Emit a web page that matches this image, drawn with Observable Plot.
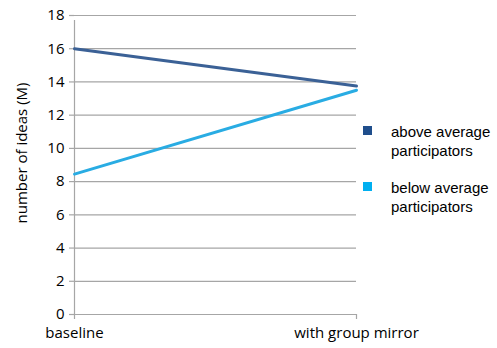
<!DOCTYPE html>
<html>
<head>
<meta charset="utf-8">
<script src="https://cdn.jsdelivr.net/npm/d3@7"></script>
<script src="https://cdn.jsdelivr.net/npm/@observablehq/plot@0.6"></script>
<style>
  html, body { margin: 0; padding: 0; background: #fff; }
  #wrap { position: relative; width: 497px; height: 348px; }
  .legend { position: absolute; left: 363px; font-family: "Liberation Sans", Arial, sans-serif; font-size: 15px; color: #000; line-height: 19px; }
  .legend .sw { position: absolute; left: 0; top: 4px; width: 9px; height: 9px; }
  .legend .tx { position: absolute; left: 28px; top: 0; white-space: nowrap; }
</style>
</head>
<body>
<div id="wrap"></div>
<script>
const categories = ["baseline", "with group mirror"];
const seriesNames = ["above average participators", "below average participators"];
const aboveValues = [16, 13.75];
const belowValues = [8.45, 13.5];
const yTicks = [0, 2, 4, 6, 8, 10, 12, 14, 16, 18];
const yLabel = "number of ideas (M)";
const lineColors = ["#3b6196", "#29ace3"];
const legendColors = ["#1f4e8c", "#00aff0"];

const data = [];
categories.forEach((c, i) => {
  data.push({cat: c, series: seriesNames[0], value: aboveValues[i]});
  data.push({cat: c, series: seriesNames[1], value: belowValues[i]});
});

const axisColor = "#a6a6a6";
const font = "'Open Sans', sans-serif";

const chart = Plot.plot({
  width: 497,
  height: 348,
  marginLeft: 74,
  marginRight: 141,
  marginTop: 15,
  marginBottom: 34,
  style: {fontFamily: font, fontSize: "15px", color: "#000", background: "#fff"},
  x: {type: "point", domain: categories, padding: 0},
  y: {domain: [0, 18]},
  color: {domain: seriesNames, range: lineColors},
  marks: [
    Plot.gridY(yTicks, {stroke: axisColor, strokeOpacity: 1, strokeWidth: 1.2}),
    Plot.ruleX([categories[0]], {y1: 0, y2: 18, stroke: axisColor, strokeWidth: 1.2, insetBottom: -5}),
    Plot.axisY(yTicks, {tickSize: 5, tickPadding: 5, stroke: axisColor, strokeWidth: 1.2, fill: "#000", fontSize: 15, label: null}),
    Plot.axisX(categories, {tickSize: 5, tickPadding: 8, stroke: axisColor, strokeWidth: 1.2, fill: "#000", fontSize: 15, label: null}),
    Plot.text([yLabel], {text: d => d, frameAnchor: "left", textAnchor: "middle", rotate: -90, dx: -52, dy: -12, fontSize: 15, fill: "#000"}),
    Plot.line(data, {x: "cat", y: "value", z: "series", stroke: "series", strokeWidth: 3})
  ]
});

const wrap = document.getElementById("wrap");
wrap.appendChild(chart);

const legendTops = [122, 178];
seriesNames.forEach((name, i) => {
  const item = document.createElement("div");
  item.className = "legend";
  item.style.top = legendTops[i] + "px";
  const sw = document.createElement("div");
  sw.className = "sw";
  sw.style.background = legendColors[i];
  const tx = document.createElement("div");
  tx.className = "tx";
  const words = name.split(" ");
  tx.innerHTML = words.slice(0, 2).join(" ") + "<br>" + words.slice(2).join(" ");
  item.appendChild(sw);
  item.appendChild(tx);
  wrap.appendChild(item);
});
</script>
</body>
</html>
